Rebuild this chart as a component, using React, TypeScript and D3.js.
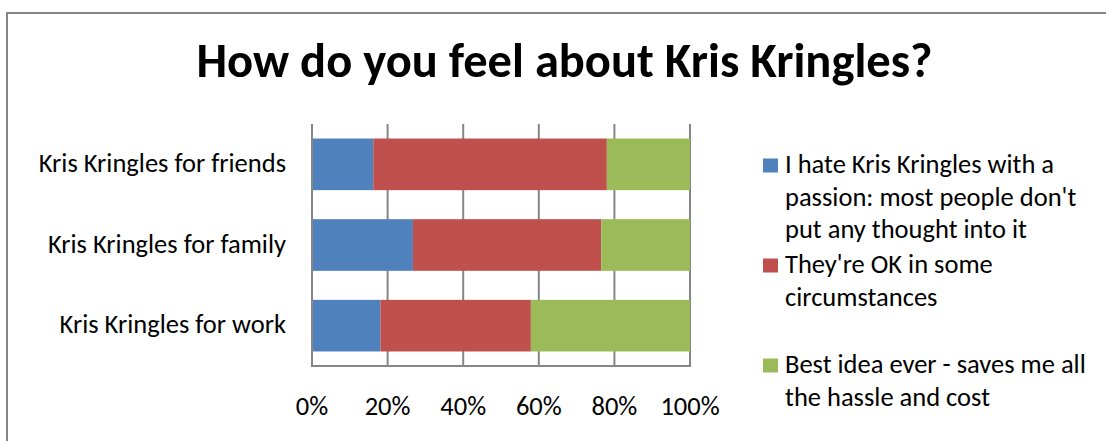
import { useEffect, useRef } from 'react';
import * as d3 from 'd3';

const categories = ['Kris Kringles for friends', 'Kris Kringles for family', 'Kris Kringles for work'];
const seriesNames = [
  "I hate Kris Kringles with a passion: most people don't put any thought into it",
  "They're OK in some circumstances",
  'Best idea ever - saves me all the hassle and cost',
];
const legendLines = [
  ['I hate Kris Kringles with a', "passion: most people don't", 'put any thought into it'],
  ["They're OK in some", 'circumstances'],
  ['Best idea ever - saves me all', 'the hassle and cost'],
];
const hateValues = [16.2, 26.7, 18.1];
const okValues = [61.8, 49.8, 39.8];
const bestValues = [22.0, 23.5, 42.1];
const tickValues = [0, 0.2, 0.4, 0.6, 0.8, 1];
const colors = ['#4F81BD', '#C0504D', '#9BBB59'];

const FONT = "Carlito, Calibri, Lato, 'Open Sans', sans-serif";

export default function App() {
  const ref = useRef<SVGSVGElement | null>(null);

  useEffect(() => {
    const svgEl = ref.current;
    if (!svgEl) return;
    const svg = d3.select(svgEl);
    svg.selectAll('*').remove();

    const width = 1106;
    const height = 441;
    const plot = { left: 312, right: 690, top: 124, bottom: 366 };

    const rows = categories.map((c, i) => ({
      category: c,
      s0: hateValues[i],
      s1: okValues[i],
      s2: bestValues[i],
    }));
    const stacked = d3.stack<any>().keys(['s0', 's1', 's2']).offset(d3.stackOffsetExpand)(rows);

    const x = d3.scaleLinear().domain([0, 1]).range([plot.left, plot.right]);
    const y = d3.scaleBand().domain(categories).range([plot.top, plot.bottom]).paddingInner(0.36).paddingOuter(0.18);

    // chart area border
    svg.append('rect')
      .attr('x', 7).attr('y', 13).attr('width', width + 20).attr('height', height + 20)
      .attr('fill', '#fff').attr('stroke', '#868686').attr('stroke-width', 2);

    svg.append('text')
      .attr('x', 564.5).attr('y', 77).attr('text-anchor', 'middle')
      .style('font-family', FONT).style('font-weight', 'bold').style('font-size', '48.5px').style('fill', '#000')
      .text('How do you feel about Kris Kringles?');

    // gridlines
    svg.append('g').selectAll('line').data(tickValues).enter().append('line')
      .attr('x1', d => x(d)).attr('x2', d => x(d)).attr('y1', plot.top).attr('y2', plot.bottom)
      .attr('stroke', '#868686').attr('stroke-width', 2);

    svg.append('g').selectAll('g').data(stacked).enter().append('g')
      .attr('fill', (_, i) => colors[i])
      .selectAll('rect').data(d => d).enter().append('rect')
      .attr('x', d => x(d[0])).attr('width', d => x(d[1]) - x(d[0]))
      .attr('y', d => y(d.data.category)!).attr('height', y.bandwidth());

    // axes lines
    svg.append('line').attr('x1', plot.left).attr('x2', plot.left).attr('y1', plot.top).attr('y2', plot.bottom + 1)
      .attr('stroke', '#868686').attr('stroke-width', 2);
    svg.append('line').attr('x1', plot.left - 1).attr('x2', plot.right + 1).attr('y1', plot.bottom).attr('y2', plot.bottom)
      .attr('stroke', '#868686').attr('stroke-width', 2);

    svg.append('g').selectAll('text').data(tickValues).enter().append('text')
      .attr('x', d => x(d)).attr('y', 415).attr('text-anchor', 'middle')
      .style('font-family', FONT).style('font-size', '26.5px').style('fill', '#000')
      .text(d => d3.format('.0%')(d));

    svg.append('g').selectAll('text').data(categories).enter().append('text')
      .attr('x', 286).attr('y', d => y(d)! + y.bandwidth() / 2 + 7.5).attr('text-anchor', 'end')
      .style('font-family', FONT).style('font-size', '26.5px').style('fill', '#000')
      .text(d => d);

    const legend = svg.append('g').selectAll('g').data(seriesNames).enter().append('g')
      .attr('transform', (_, i) => `translate(763,${173 + i * 100})`);
    legend.append('rect').attr('x', 0).attr('y', -14.5).attr('width', 15).attr('height', 14)
      .attr('fill', (_, i) => colors[i]);
    legend.append('text')
      .style('font-family', FONT).style('font-size', '26.5px').style('fill', '#000')
      .selectAll('tspan').data((_, i) => legendLines[i]).enter().append('tspan')
      .attr('x', 22).attr('y', (_, j) => j * 32.5)
      .text(d => d);
  }, []);

  return (
    <svg ref={ref} width={1106} height={441} style={{ position: 'absolute', left: 0, top: 0, background: '#fff' }} />
  );
}
